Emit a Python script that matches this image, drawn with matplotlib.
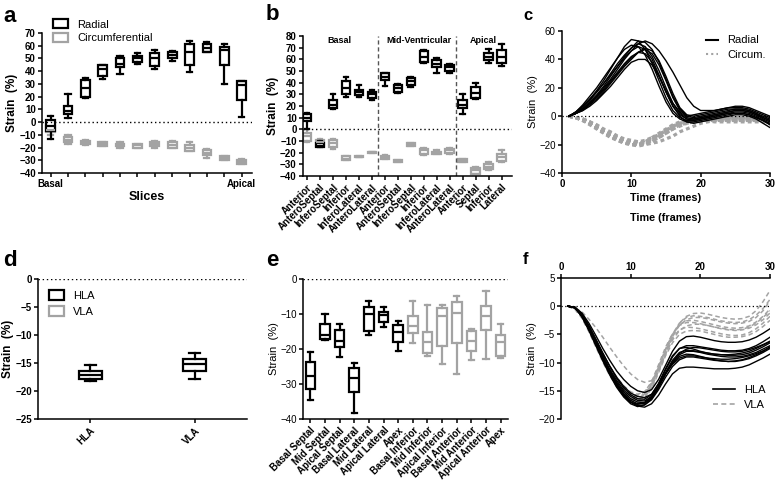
# Strain panels a-f (radial / circumferential / longitudinal)
import matplotlib
matplotlib.use('Agg')
import matplotlib.pyplot as plt
from matplotlib.patches import Patch
from matplotlib.lines import Line2D
import numpy as np

plt.rcParams['font.family'] = ['Liberation Sans', 'DejaVu Sans']
plt.rcParams['axes.linewidth'] = 1.1

GREY = '#a3a3a3'

# ---- panel a : per slice (whislo, q1, med, q3, whishi)
a_rad_lo  = [-13, 3, 19, 34, 38, 46, 42, 48, 39, 55, 30, 4]
a_rad_q1  = [-7, 6, 20, 36, 43, 47, 44, 50, 45, 55, 45, 17]
a_rad_med = [-3, 9, 27, 42, 46, 50, 50, 53, 55, 58, 57, 29]
a_rad_q3  = [2, 13, 33, 45, 50, 52, 54, 55, 61, 61, 59, 32]
a_rad_hi  = [5, 22, 35, 45, 52, 54, 57, 56, 64, 63, 61, 32]
a_cir_lo  = [-10, -17, -18, -19, -20, -20, -20, -20, -23, -28, -30, -33]
a_cir_q1  = [-8, -16, -17, -19, -19, -20, -19, -20, -23, -26, -30, -33]
a_cir_med = [-6, -14, -16, -17, -18, -18, -17, -18, -20, -24, -28, -31]
a_cir_q3  = [-3, -12, -15, -16, -17, -17, -16, -16, -18, -22, -27, -30]
a_cir_hi  = [-1, -10, -14, -16, -16, -17, -15, -15, -16, -21, -27, -29]
a_ticklabels = ['Basal', '', '', '', '', '', '', '', '', '', '', 'Apical']

# ---- panel b : per segment
b_segments = ['Anterior', 'AnteroSeptal', 'InferoSeptal', 'Inferior', 'InferoLateral',
              'AnteroLateral', 'Anterior', 'AnteroSeptal', 'InferoSeptal', 'Inferior',
              'InferoLateral', 'AnteroLateral', 'Anterior', 'Septal', 'Inferior', 'Lateral']
b_levels = ['Basal', 'Mid-Ventricular', 'Apical']
b_rad_lo  = [0, -15, 17, 28, 28, 25, 37, 31, 36, 57, 48, 48, 13, 26, 57, 54]
b_rad_q1  = [7, -15, 18, 30, 29, 27, 42, 32, 38, 58, 53, 50, 18, 27, 59, 57]
b_rad_med = [10, -14, 21, 35, 32, 30, 45, 35, 41, 62, 56, 53, 21, 31, 62, 62]
b_rad_q3  = [13, -12, 25, 41, 34, 32, 48, 38, 44, 67, 59, 55, 25, 36, 65, 68]
b_rad_hi  = [14, -10, 30, 45, 38, 34, 48, 39, 45, 68, 61, 56, 30, 40, 69, 73]
b_cir_lo  = [-11, -15, -17, -26, -24, -20, -25, -28, -14, -22, -21, -21, -28, -38, -35, -28]
b_cir_q1  = [-10, -14, -15, -26, -24, -20, -25, -28, -14, -21, -21, -20, -28, -38, -34, -27]
b_cir_med = [-6, -11, -12, -25, -23.5, -19.5, -24, -27, -13, -18, -20, -18, -26, -35, -32, -24]
b_cir_q3  = [-3, -9, -9, -23, -23, -19, -23, -26, -12, -17, -19, -17, -25, -33, -30, -21]
b_cir_hi  = [0, -8, -8, -23, -23, -19, -22, -26, -12, -16, -18, -16, -25, -32, -28, -18]

# ---- panel c : strain vs time, frames 1..30
frames = list(range(1, 31))
c_radial = [
    [0, 3, 7, 12, 18, 25, 33, 41, 49, 54, 53, 47, 37, 25, 13, 4, -1, -3, -3, -2, -1, 0, 1, 2, 2, 2, 1, -1, -3, -5],
    [0, 2, 5, 10, 15, 21, 28, 35, 42, 48, 53, 52, 47, 38, 26, 14, 5, 0, -1, 0, 1, 2, 3, 4, 5, 5, 4, 2, 0, -2],
    [0, 2, 6, 11, 17, 23, 30, 37, 43, 48, 51, 49, 42, 32, 20, 9, 2, -2, -3, -2, -1, 0, 1, 2, 3, 3, 2, 0, -3, -6],
    [0, 3, 7, 12, 17, 23, 29, 35, 41, 46, 49, 47, 40, 29, 17, 7, 1, -2, -2, -1, 0, 1, 2, 3, 4, 4, 3, 1, -2, -4],
    [0, 2, 5, 9, 14, 19, 25, 31, 37, 42, 45, 47, 44, 36, 25, 13, 4, 0, 1, 2, 3, 4, 5, 6, 6, 6, 5, 3, 1, -1],
    [0, 2, 5, 9, 13, 18, 24, 30, 36, 41, 45, 44, 38, 28, 17, 7, 0, -4, -5, -4, -3, -2, -1, 0, 1, 1, 0, -2, -5, -8],
    [0, 2, 4, 7, 11, 16, 21, 27, 33, 38, 40, 40, 36, 28, 18, 9, 3, -1, -2, -1, 0, 1, 2, 3, 4, 4, 3, 1, -1, -3],
    [0, 2, 5, 9, 14, 20, 26, 33, 40, 46, 51, 53, 51, 46, 39, 31, 22, 13, 7, 4, 4, 4, 5, 6, 7, 7, 6, 4, 2, 0],
    [0, 3, 8, 14, 20, 27, 34, 41, 47, 50, 49, 43, 33, 21, 10, 2, -2, -4, -4, -3, -2, -1, 0, 1, 2, 2, 1, -1, -3, -6],
    [0, 2, 4, 8, 12, 17, 23, 29, 35, 40, 45, 48, 46, 39, 28, 16, 6, 1, 0, 1, 2, 3, 4, 5, 5, 5, 4, 2, -1, -3],
]
c_circum = [
    [0, -1, -3, -5, -8, -11, -14, -16, -18, -19, -20, -19, -17, -14, -11, -8, -6, -4, -3, -3, -2, -2, -2, -2, -2, -2, -2, -2, -2, -3],
    [0, -1, -2, -4, -7, -10, -13, -16, -18, -20, -21, -20, -18, -15, -12, -9, -6, -5, -4, -3, -3, -3, -3, -3, -3, -3, -3, -3, -3, -3],
    [0, -1, -3, -6, -9, -12, -15, -17, -19, -20, -20, -18, -15, -12, -9, -6, -4, -3, -2, -2, -1, -1, -1, -1, -1, -1, -1, -2, -2, -2],
    [0, -1, -2, -4, -6, -9, -11, -14, -16, -17, -18, -17, -15, -13, -10, -7, -5, -4, -3, -2, -2, -2, -2, -1, -1, -1, -1, -1, -2, -2],
    [0, -1, -3, -5, -8, -11, -14, -16, -18, -19, -20, -20, -19, -18, -16, -14, -11, -9, -7, -5, -4, -3, -3, -3, -3, -3, -3, -3, -3, -3],
    [0, -1, -3, -5, -8, -11, -13, -15, -17, -18, -19, -18, -16, -13, -10, -7, -5, -4, -3, -3, -3, -4, -4, -4, -4, -4, -4, -4, -4, -4],
    [0, -1, -2, -5, -8, -11, -14, -17, -19, -20, -20, -19, -17, -14, -10, -7, -5, -3, -2, -2, -2, -2, -2, -2, -2, -2, -2, -3, -3, -3],
    [0, -1, -2, -4, -7, -10, -12, -15, -17, -18, -19, -19, -17, -15, -12, -9, -7, -5, -4, -3, -3, -3, -3, -2, -2, -2, -2, -2, -2, -2],
]

# ---- panel d : global longitudinal
d_views = ['HLA', 'VLA']
d_lo  = [-18.2, -17.8]
d_q1  = [-17.8, -16.4]
d_med = [-17.1, -15.2]
d_q3  = [-16.4, -14.2]
d_hi  = [-15.4, -13.2]

# ---- panel e : regional longitudinal (first 7 HLA, last 7 VLA)
e_segments = ['Basal Septal', 'Mid Septal', 'Apical Septal', 'Basal Lateral', 'Mid Lateral',
              'Apical Lateral', 'Apex', 'Basal Inferior', 'Mid Inferior', 'Apical Inferior',
              'Basal Anterior', 'Mid Anterior', 'Apical Anterior', 'Apex']
e_lo  = [-34.6, -17.4, -22.4, -38.2, -16.1, -13.8, -20.5, -18.3, -22.0, -24.3, -27.1, -23.1, -22.9, -22.6]
e_q1  = [-31.5, -17.1, -19.5, -32.2, -14.8, -12.4, -18.0, -15.5, -21.2, -19.0, -18.3, -20.5, -14.5, -22.0]
e_med = [-27.7, -15.9, -17.6, -28.4, -9.9, -10.4, -15.2, -13.4, -18.1, -10.7, -9.8, -17.7, -10.5, -17.9]
e_q3  = [-23.6, -12.9, -14.6, -25.3, -7.9, -9.3, -13.1, -10.7, -15.2, -8.3, -6.6, -14.8, -7.6, -15.9]
e_hi  = [-20.9, -9.9, -12.8, -24.0, -6.2, -8.0, -11.9, -6.2, -7.4, -7.5, -4.8, -14.4, -3.5, -12.8]

# ---- panel f : longitudinal strain vs time
f_hla = [
    [0, -0.2, -1.2, -3, -5.2, -7.5, -9.6, -11.5, -13, -14.2, -15, -15.3, -14.8, -13, -10.5, -8, -6.2, -5.4, -5.3, -5.5, -5.8, -6.1, -6.3, -6.4, -6.4, -6.3, -6, -5.5, -4.8, -4],
    [0, -0.3, -1.5, -3.5, -6, -8.4, -10.6, -12.6, -14.2, -15.4, -16, -16.2, -15.6, -13.8, -11.3, -9, -7.5, -7, -7, -7.2, -7.4, -7.6, -7.8, -7.9, -7.9, -7.8, -7.5, -7, -6.3, -5.5],
    [0, -0.2, -1.6, -3.7, -6.2, -8.8, -11.2, -13.2, -14.9, -16, -16.7, -16.8, -16, -14.2, -11.8, -9.6, -8.2, -7.8, -7.9, -8.1, -8.3, -8.5, -8.6, -8.7, -8.7, -8.6, -8.3, -7.8, -7.2, -6.5],
    [0, -0.3, -1.8, -4, -6.6, -9.2, -11.7, -13.8, -15.5, -16.7, -17.3, -17.2, -16.3, -14.4, -12, -10, -8.6, -8, -8, -8.2, -8.5, -8.7, -8.9, -9, -9, -8.9, -8.6, -8.2, -7.6, -7],
    [0, -0.2, -1.9, -4.3, -7, -9.7, -12.2, -14.4, -16.1, -17.3, -17.8, -17.5, -16.4, -14.4, -12, -10.1, -8.9, -8.5, -8.6, -8.9, -9.2, -9.5, -9.7, -9.8, -9.8, -9.6, -9.3, -8.8, -8.2, -7.5],
    [0, -0.3, -1.7, -4, -6.6, -9.3, -11.8, -14, -15.8, -17, -17.6, -17.5, -16.6, -14.8, -12.6, -10.7, -9.5, -9, -9, -9.2, -9.4, -9.6, -9.7, -9.8, -9.7, -9.5, -9.1, -8.6, -8, -7.2],
    [0, -0.2, -1.6, -3.8, -6.4, -9, -11.6, -13.8, -15.7, -17, -17.7, -17.9, -17.3, -15.8, -13.8, -12, -11, -10.8, -10.8, -10.9, -11, -11.1, -11.1, -11.1, -11, -10.8, -10.4, -9.8, -9.2, -8.5],
    [0, -0.2, -1.4, -3.4, -5.8, -8.3, -10.7, -12.8, -14.5, -15.7, -16.4, -16.5, -15.7, -13.7, -11.1, -8.8, -7.5, -7.3, -7.6, -8, -8.3, -8.5, -8.6, -8.6, -8.5, -8.3, -8, -7.5, -6.9, -6.3],
    [0, -0.3, -1.7, -3.9, -6.4, -9, -11.4, -13.5, -15.2, -16.4, -17, -17.1, -16.2, -14.3, -11.9, -9.9, -8.4, -7.6, -7.3, -7.4, -7.6, -7.8, -8, -8.1, -8.1, -8, -7.7, -7.3, -6.8, -6.2],
    [0, -0.2, -1.8, -4.1, -6.8, -9.5, -12, -14.2, -15.9, -17, -17.4, -17.1, -16, -14.2, -12, -10.3, -9.2, -8.8, -8.8, -9, -9.2, -9.3, -9.4, -9.4, -9.3, -9.1, -8.8, -8.4, -7.9, -7.3],
]
f_vla = [
    [0, -0.3, -1, -2.3, -3.8, -5.5, -7.3, -9, -10.6, -12, -13, -13.5, -13.2, -11.5, -8.5, -5.5, -3, -1.8, -1.3, -1.2, -1.4, -1.7, -2, -2.2, -2.3, -2.2, -1.8, -0.8, 0.8, 2.8],
    [0, -0.4, -1.8, -4, -6.5, -9, -11.3, -13.2, -14.7, -15.7, -16, -15.6, -14, -11.2, -8, -5.3, -3.4, -2.4, -2, -2, -2.2, -2.5, -2.8, -3, -3.1, -3, -2.7, -2, -0.8, 1],
    [0, -0.5, -2, -4.3, -6.9, -9.5, -11.9, -13.9, -15.4, -16.4, -16.7, -16.2, -14.4, -11.5, -8.5, -6, -4.3, -3.5, -3.2, -3.2, -3.4, -3.7, -4, -4.2, -4.3, -4.2, -3.9, -3.3, -2.4, -1.2],
    [0, -0.4, -1.9, -4.2, -6.8, -9.4, -11.7, -13.6, -15.1, -16, -16.3, -15.7, -13.8, -10.8, -7.6, -5, -3.3, -2.6, -2.5, -2.7, -3, -3.3, -3.6, -3.8, -3.9, -3.8, -3.5, -2.8, -1.8, -0.5],
    [0, -0.5, -2.1, -4.5, -7.2, -9.9, -12.3, -14.3, -15.8, -16.7, -17, -16.4, -14.6, -11.8, -8.8, -6.5, -5, -4.4, -4.3, -4.4, -4.7, -5, -5.3, -5.5, -5.5, -5.4, -5.1, -4.5, -3.6, -2.5],
    [0, -0.4, -1.7, -3.9, -6.4, -8.9, -11.2, -13.1, -14.6, -15.5, -15.8, -15.2, -13.4, -10.4, -7.3, -4.9, -3.4, -2.9, -2.9, -3.1, -3.4, -3.7, -3.9, -4.1, -4.2, -4.1, -3.7, -3, -2, -0.8],
    [0, -0.5, -2, -4.4, -7, -9.6, -12, -14, -15.5, -16.4, -16.6, -15.9, -13.9, -10.9, -7.9, -5.6, -4.2, -3.7, -3.8, -4, -4.3, -4.6, -4.9, -5.1, -5.2, -5.1, -4.7, -4, -3, -1.8],
    [0, -0.3, -1.6, -3.6, -6, -8.4, -10.7, -12.6, -14.1, -15.2, -15.6, -15.2, -13.6, -10.8, -7.7, -5, -3, -2, -1.7, -1.8, -2, -2.3, -2.6, -2.8, -2.9, -2.8, -2.4, -1.6, -0.4, 1.2],
]


def boxes(ax, pos, lo, q1, med, q3, hi, color, width, capw, lw=1.6):
    stats = [dict(whislo=s[0], q1=s[1], med=s[2], q3=s[3], whishi=s[4])
             for s in zip(lo, q1, med, q3, hi)]
    ax.bxp(stats, positions=pos, widths=width, capwidths=capw, showfliers=False,
           patch_artist=True, manage_ticks=False,
           boxprops=dict(facecolor='white', edgecolor=color, linewidth=lw),
           medianprops=dict(color=color, linewidth=lw),
           whiskerprops=dict(color=color, linewidth=lw),
           capprops=dict(color=color, linewidth=lw))


def style(ax, fs=7, bold=True):
    for s in ['top', 'right']:
        ax.spines[s].set_visible(False)
    ax.tick_params(length=3, width=1.1, labelsize=fs, pad=1.5)
    if bold:
        for t in ax.get_yticklabels():
            t.set_fontweight('bold')


W, H = 778, 486
fig = plt.figure(figsize=(W / 100, H / 100), dpi=100)


def rect(l, r, t, b):
    return [l / W, 1 - b / H, (r - l) / W, (b - t) / H]


# ---------------- a
ax = fig.add_axes(rect(42, 252, 33, 173))
pos = np.arange(1, 13)
boxes(ax, pos, a_cir_lo, a_cir_q1, a_cir_med, a_cir_q3, a_cir_hi, GREY, 0.5, 0.3)
boxes(ax, pos, a_rad_lo, a_rad_q1, a_rad_med, a_rad_q3, a_rad_hi, 'black', 0.5, 0.3)
ax.axhline(0, color='black', ls=(0, (1, 2)), lw=1)
ax.set_xlim(0.5, 12.6)
ax.set_ylim(-40, 70)
ax.set_yticks(np.arange(-40, 71, 10))
ax.set_xticks(pos)
ax.set_xticklabels(a_ticklabels, fontsize=5, fontweight='bold')
style(ax)
ax.set_xlabel('Slices', fontsize=9, fontweight='bold', labelpad=1)
ax.set_ylabel('Strain  (%)', fontsize=8.5, fontweight='bold', labelpad=1)
ax.legend(handles=[Patch(facecolor='white', edgecolor='black', lw=1.6, label='Radial'),
                   Patch(facecolor='white', edgecolor=GREY, lw=1.6, label='Circumferential')],
          loc='upper left', bbox_to_anchor=(0.03, 1.13), frameon=False, fontsize=8,
          handlelength=1.4, handleheight=0.9, labelspacing=0.3, borderaxespad=0)

# ---------------- b
ax = fig.add_axes(rect(303, 512, 36, 176))
pos = np.arange(1, 17)
boxes(ax, pos, b_cir_lo, b_cir_q1, b_cir_med, b_cir_q3, b_cir_hi, GREY, 0.65, 0.35)
boxes(ax, pos, b_rad_lo, b_rad_q1, b_rad_med, b_rad_q3, b_rad_hi, 'black', 0.65, 0.35)
ax.axhline(0, color='black', ls=(0, (1, 2)), lw=1)
for xv in [6.5, 12.5]:
    ax.axvline(xv, color='#555555', ls=(0, (3, 2)), lw=1)
for xv, lab in zip([3.5, 9.6, 14.6], b_levels):
    ax.text(xv, 76, lab, ha='center', va='center', fontsize=6.5, fontweight='bold')
ax.set_xlim(0.7, 16.8)
ax.set_ylim(-40, 80)
ax.set_yticks(np.arange(-40, 81, 10))
ax.set_xticks(pos)
ax.set_xticklabels(b_segments, rotation=45, ha='right', rotation_mode='anchor',
                   fontsize=7.8, fontweight='bold')
style(ax)
ax.set_ylabel('Strain  (%)', fontsize=8.5, fontweight='bold', labelpad=1)

# ---------------- c
ax = fig.add_axes(rect(562, 770, 31, 173))
for y in c_circum:
    ax.plot(frames, y, color=GREY, lw=2.3, ls=(0, (1.2, 1)))
for y in c_radial:
    ax.plot(frames, y, color='black', lw=1.0)
ax.axhline(0, color='black', ls=(0, (1, 2)), lw=0.9)
ax.set_xlim(0, 30)
ax.set_ylim(-40, 60)
ax.set_xticks([0, 10, 20, 30])
ax.set_yticks(np.arange(-40, 61, 20))
style(ax, bold=False)
for t in ax.get_xticklabels():
    t.set_fontweight('bold')
ax.set_xlabel('Time (frames)', fontsize=7.8, fontweight='bold', labelpad=3)
ax.set_ylabel('Strain  (%)', fontsize=8, labelpad=1)
fig.text(666 / W, 1 - 218 / H, 'Time (frames)', ha='center', va='center',
         fontsize=7.8, fontweight='bold')
ax.legend(handles=[Line2D([], [], color='black', lw=1.5, label='Radial'),
                   Line2D([], [], color=GREY, lw=1.5, ls=(0, (1, 1.5)), label='Circum.')],
          loc='upper right', bbox_to_anchor=(1.0, 1.0), frameon=False, fontsize=8,
          handlelength=1.1, labelspacing=0.4, borderaxespad=0)

# ---------------- d
ax = fig.add_axes(rect(38, 247, 279, 419))
boxes(ax, [0], d_lo[:1], d_q1[:1], d_med[:1], d_q3[:1], d_hi[:1], 'black', 0.22, 0.11)
boxes(ax, [1], d_lo[1:], d_q1[1:], d_med[1:], d_q3[1:], d_hi[1:], 'black', 0.22, 0.11)
ax.axhline(0, color='black', ls=(0, (1, 2)), lw=1)
ax.set_xlim(-0.5, 1.5)
ax.set_ylim(-25, 0)
ax.set_yticks(np.arange(-25, 1, 5))
ax.set_xticks([0, 1])
ax.set_xticklabels(d_views, rotation=45, ha='right', rotation_mode='anchor',
                   fontsize=7.5, fontweight='bold')
style(ax)
ax.set_ylabel('Strain  (%)', fontsize=8.5, fontweight='bold', labelpad=1)
ax.legend(handles=[Patch(facecolor='white', edgecolor='black', lw=1.6, label='HLA'),
                   Patch(facecolor='white', edgecolor=GREY, lw=1.6, label='VLA')],
          loc='upper left', bbox_to_anchor=(0.03, 0.95), frameon=False, fontsize=8,
          handlelength=1.4, handleheight=0.9, labelspacing=0.5, borderaxespad=0)

# ---------------- e
ax = fig.add_axes(rect(303, 508, 279, 419))
pos = np.arange(1, 15)
boxes(ax, pos[:7], e_lo[:7], e_q1[:7], e_med[:7], e_q3[:7], e_hi[:7], 'black', 0.65, 0.35)
boxes(ax, pos[7:], e_lo[7:], e_q1[7:], e_med[7:], e_q3[7:], e_hi[7:], GREY, 0.65, 0.35)
ax.axhline(0, color='black', ls=(0, (1, 2)), lw=1)
ax.set_xlim(0.5, 14.5)
ax.set_ylim(-40, 0)
ax.set_yticks([-40, -30, -20, -10, 0])
ax.set_xticks(pos)
ax.set_xticklabels(e_segments, rotation=45, ha='right', rotation_mode='anchor',
                   fontsize=7.8, fontweight='bold')
style(ax, bold=False)
ax.set_ylabel('Strain  (%)', fontsize=8, labelpad=1)

# ---------------- f
ax = fig.add_axes(rect(561, 770, 278, 419))
for y in f_vla:
    ax.plot(frames, y, color=GREY, lw=1.1, ls=(0, (3, 2)))
for y in f_hla:
    ax.plot(frames, y, color='black', lw=1.0)
ax.axhline(0, color='black', ls=(0, (1, 2)), lw=0.9)
ax.set_xlim(0, 30)
ax.set_ylim(-20, 5)
ax.set_xticks([0, 10, 20, 30])
ax.set_yticks(np.arange(-20, 6, 5))
ax.spines['bottom'].set_visible(False)
ax.spines['right'].set_visible(False)
ax.xaxis.tick_top()
ax.tick_params(length=3, width=1.1, labelsize=7, pad=1.5)
for t in ax.get_xticklabels():
    t.set_fontweight('bold')
ax.set_ylabel('Strain  (%)', fontsize=8, labelpad=1)
ax.legend(handles=[Line2D([], [], color='black', lw=1.2, label='HLA'),
                   Line2D([], [], color=GREY, lw=1.2, ls=(0, (3, 2)), label='VLA')],
          loc='lower right', bbox_to_anchor=(1.0, 0.03), frameon=False, fontsize=8,
          handlelength=2.0, labelspacing=0.5, borderaxespad=0)

# panel letters
for x, y, s, fs in [(3, 22, 'a', 16), (266, 20, 'b', 16), (523, 20, 'c', 12),
                    (3, 266, 'd', 16), (266, 266, 'e', 16), (523, 264, 'f', 12)]:
    fig.text(x / W, 1 - y / H, s, fontsize=fs, fontweight='bold', va='baseline')

fig.savefig('out.png', dpi=100)
